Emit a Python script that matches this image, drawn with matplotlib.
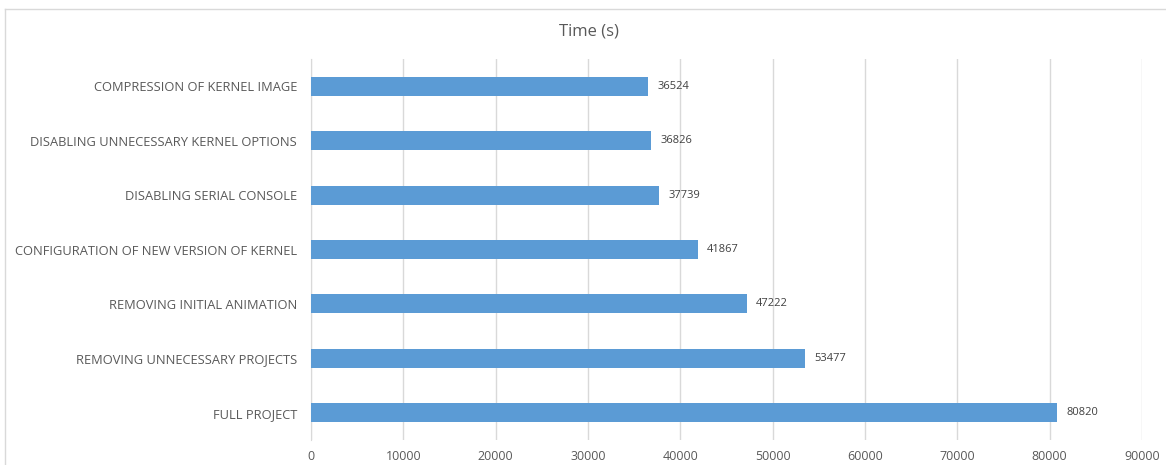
import matplotlib
matplotlib.use('Agg')
import matplotlib.pyplot as plt
from matplotlib.lines import Line2D

categories = [
    'FULL PROJECT',
    'REMOVING UNNECESSARY PROJECTS',
    'REMOVING INITIAL ANIMATION',
    'CONFIGURATION OF NEW VERSION OF KERNEL',
    'DISABLING SERIAL CONSOLE',
    'DISABLING UNNECESSARY KERNEL OPTIONS',
    'COMPRESSION OF KERNEL IMAGE',
]
times = [80820, 53477, 47222, 41867, 37739, 36826, 36524]
x_ticks = [0, 10000, 20000, 30000, 40000, 50000, 60000, 70000, 80000, 90000]

plt.rcParams['font.family'] = ['Open Sans', 'DejaVu Sans']

fig = plt.figure(figsize=(11.66, 4.65), dpi=100)
ax = fig.add_axes([311 / 1166, 1 - 440 / 465, (1142 - 311) / 1166, (440 - 59) / 465])

ypos = list(range(len(categories)))
ax.barh(ypos, times, height=0.35, color='#5b9bd5', zorder=3)
for y, v in zip(ypos, times):
    ax.text(v + 1000, y, str(v), va='center', ha='left', fontsize=8, color='#404040')

ax.set_xlim(0, 90000)
ax.set_ylim(-0.5, len(categories) - 0.5)
ax.set_xticks(x_ticks)
ax.set_xticklabels([str(t) for t in x_ticks])
ax.set_yticks(ypos)
ax.set_yticklabels(categories, fontsize=9.3)
ax.tick_params(axis='both', length=0, colors='#595959')
ax.tick_params(axis='x', labelsize=9, pad=7)
ax.tick_params(axis='y', pad=10)
ax.grid(axis='x', color='#d9d9d9', linewidth=1, zorder=0)
for s in ['top', 'right', 'bottom']:
    ax.spines[s].set_visible(False)
ax.spines['left'].set_color('#d9d9d9')

fig.text(589 / 1166, 1 - 32 / 465, 'Time (s)', ha='center', va='center', fontsize=12, color='#595959')

# chart frame (cropped at right and bottom)
fig.add_artist(Line2D([5 / 1166, 5 / 1166], [0, 1 - 9 / 465], transform=fig.transFigure, color='#d9d9d9', lw=1))
fig.add_artist(Line2D([5 / 1166, 1], [1 - 9 / 465, 1 - 9 / 465], transform=fig.transFigure, color='#d9d9d9', lw=1))

fig.savefig('out.png', dpi=100)
